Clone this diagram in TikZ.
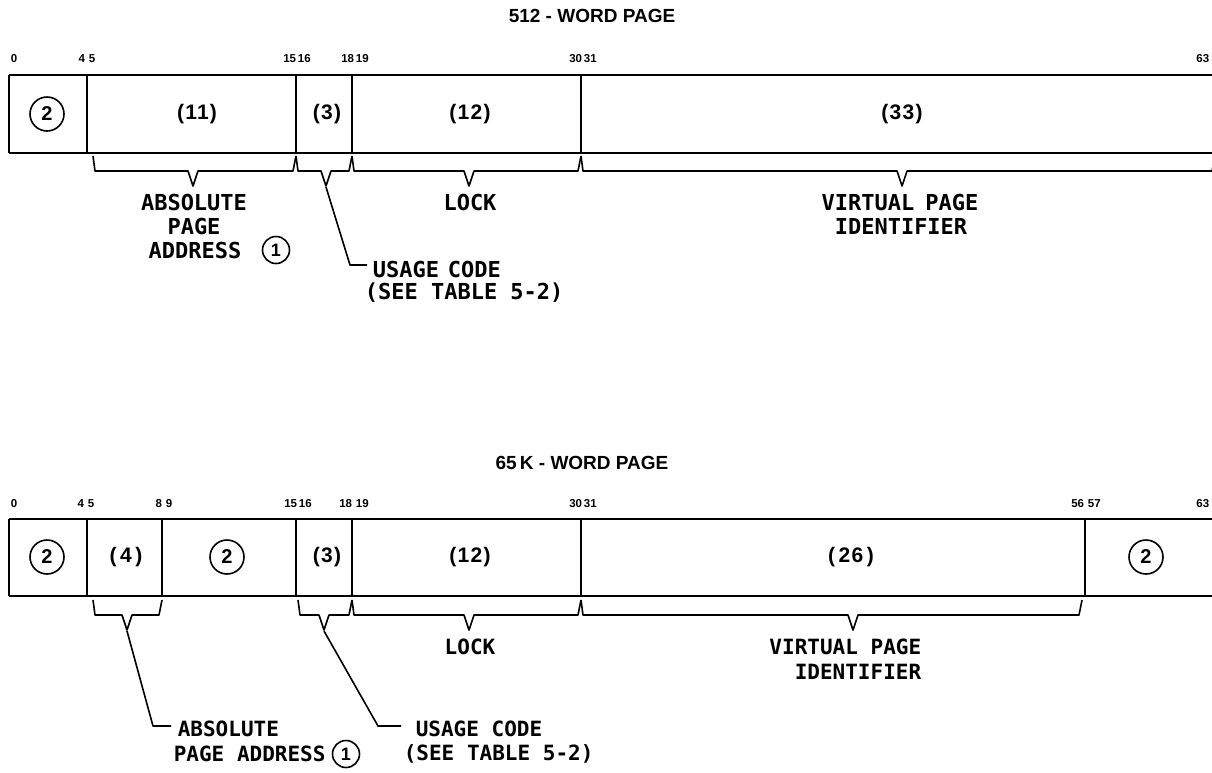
\documentclass[tikz,border=0pt]{standalone}
\usepackage{fontspec}
\setmainfont{Liberation Sans}
\newfontfamily\monof{DejaVu Sans Mono}
\newfontfamily\fldf[LetterSpace=6]{Liberation Sans}
\begin{document}
\begin{tikzpicture}[x=1pt,y=-1pt,line width=1.6pt,line join=round,
  lbl/.style={font=\monof\fontsize{22}{24}\selectfont\bfseries,inner sep=0pt},
  lbls/.style={font=\monof\fontsize{21}{24}\selectfont\bfseries,inner sep=0pt},
  ttl/.style={font=\fontsize{19}{22}\selectfont\bfseries,inner sep=0pt},
  bitn/.style={font=\fontsize{11.5}{12}\selectfont\bfseries,inner sep=0pt},
  fld/.style={font=\fldf\fontsize{21}{24}\selectfont\bfseries,inner sep=0pt},
  cnum/.style={draw,circle,line width=1.6pt,minimum size=34pt,inner sep=0pt,font=\fontsize{20}{22}\selectfont\bfseries},
  cone/.style={draw,circle,line width=1.6pt,minimum size=27pt,inner sep=0pt,font=\fontsize{18}{20}\selectfont\bfseries}]
\useasboundingbox (0,0) rectangle (1212,772);
\newcommand\bbrace[4]{% x1, x2, xtip, ytop
  \draw (#1,#4) -- ({#1+2},{#4+15}) -- ({#3-5},{#4+15}) -- (#3,{#4+30}) -- ({#3+5},{#4+15}) -- ({#2-3},{#4+15}) -- (#2,#4);}

% ================= 512-word page =================
\node[ttl] (t1) at (592,16) {512 - WORD PAGE};
\node[bitn] (a0) at (14,59) {0};
\node[bitn] (a4) at (87,59) {4\,\,5};
\node[bitn] (a15) at (297,59) {15\,16};
\node[bitn] (a18) at (355,59) {18\,19};
\node[bitn] (a30) at (583,59) {30\,31};
\node[bitn,anchor=east] (a63) at (1210,59) {63};
\draw (9,75) -- (1216,75) (9,153) -- (1216,153) (9,75) -- (9,153);
\draw (87,75) -- (87,153);
\draw (296,75) -- (296,153);
\draw (352,75) -- (352,153);
\draw (581,75) -- (581,153);
\node[cnum] (f1) at (47,114) {2};
\node[fld] (f2) at (197,114) {(11)};
\node[fld] (f3) at (327,114) {(3)};
\node[fld] (f4) at (470,114) {(12)};
\node[fld] (f5) at (902,114) {(33)};
\bbrace{93}{296}{193}{156}
\bbrace{296}{352}{326}{156}
\bbrace{352}{581}{469}{156}
\bbrace{581}{1215}{902}{156}
\coordinate (ut) at (326,187);
\node[lbl] (abs1) at (194,202) {ABSOLUTE};
\node[lbl] (pg1) at (194,226) {PAGE};
\node[lbl] (ad1) at (195,250) {ADDRESS};
\node[cone] (c1) at (276,250) {1};
\node[lbl] (lock1) at (470,202) {LOCK};
\node[lbl] (vp1) at (900,202) {VIRTUAL\hspace{0.5em}PAGE};
\node[lbl] (id1) at (901,226) {IDENTIFIER};
\node[lbl,anchor=west] (us1) at (372,269) {USAGE\hspace{0.4em}CODE};
\node[lbl,anchor=west] (see1) at (364,293) {(SEE TABLE 5-2)};
\coordinate (uk1) at (350,265);
\coordinate (ue1) at (367,265);
\draw (ut) -- (uk1) -- (ue1);

% ================= 65K-word page =================
\node[ttl] (t2) at (582,463) {65\,K - WORD PAGE};
\node[bitn] (b0) at (14,504) {0};
\node[bitn] (b4) at (86,504) {4\,\,5};
\node[bitn] (b8) at (164,504) {8\,\,9};
\node[bitn] (b15) at (298,504) {15\,16};
\node[bitn] (b18) at (354,504) {18\,\,19};
\node[bitn] (b30) at (583,504) {30\,31};
\node[bitn] (b56) at (1086,504) {56\,\,57};
\node[bitn,anchor=east] (b63) at (1210,504) {63};
\draw (9,519) -- (1216,519) (9,596) -- (1216,596) (9,519) -- (9,596);
\draw (87,519) -- (87,596);
\draw (162,519) -- (162,596);
\draw (296,519) -- (296,596);
\draw (352,519) -- (352,596);
\draw (581,519) -- (581,596);
\draw (1085,519) -- (1085,596);
\node[cnum] (g1) at (47,557) {2};
\node[fld] (g2) at (126,557) {(\,4\,)};
\node[cnum] (g3) at (227,557) {2};
\node[fld] (g4) at (327,557) {(3)};
\node[fld] (g5) at (470,557) {(12)};
\node[fld] (g6) at (851,557) {(\,26\,)};
\node[cnum] (g7) at (1146,557) {2};
\bbrace{93}{162}{127}{600}
\bbrace{298}{352}{324}{600}
\bbrace{352}{581}{469}{600}
\bbrace{581}{1082}{853}{600}
\coordinate (at2) at (127,631);
\coordinate (ut2) at (324,631);
\node[lbls] (lock2) at (470,647) {LOCK};
\node[lbls,anchor=east] (vp2) at (922,647) {VIRTUAL PAGE};
\node[lbls,anchor=east] (id2) at (922,672) {IDENTIFIER};
\node[lbls,anchor=west] (abs2) at (177,729) {ABSOLUTE};
\node[lbls,anchor=west] (pa2) at (173,754) {PAGE ADDRESS};
\node[cone] (c2) at (346,754) {1};
\node[lbls,anchor=west] (us2) at (415,729) {USAGE CODE};
\node[lbls,anchor=west] (see2) at (403,754) {(SEE TABLE 5-2)};
\coordinate (ak2) at (153,726);
\coordinate (ae2) at (171,726);
\coordinate (uk2) at (378,726);
\coordinate (ue2) at (401,726);
\draw (at2) -- (ak2) -- (ae2);
\draw (ut2) -- (uk2) -- (ue2);
\end{tikzpicture}
\end{document}
